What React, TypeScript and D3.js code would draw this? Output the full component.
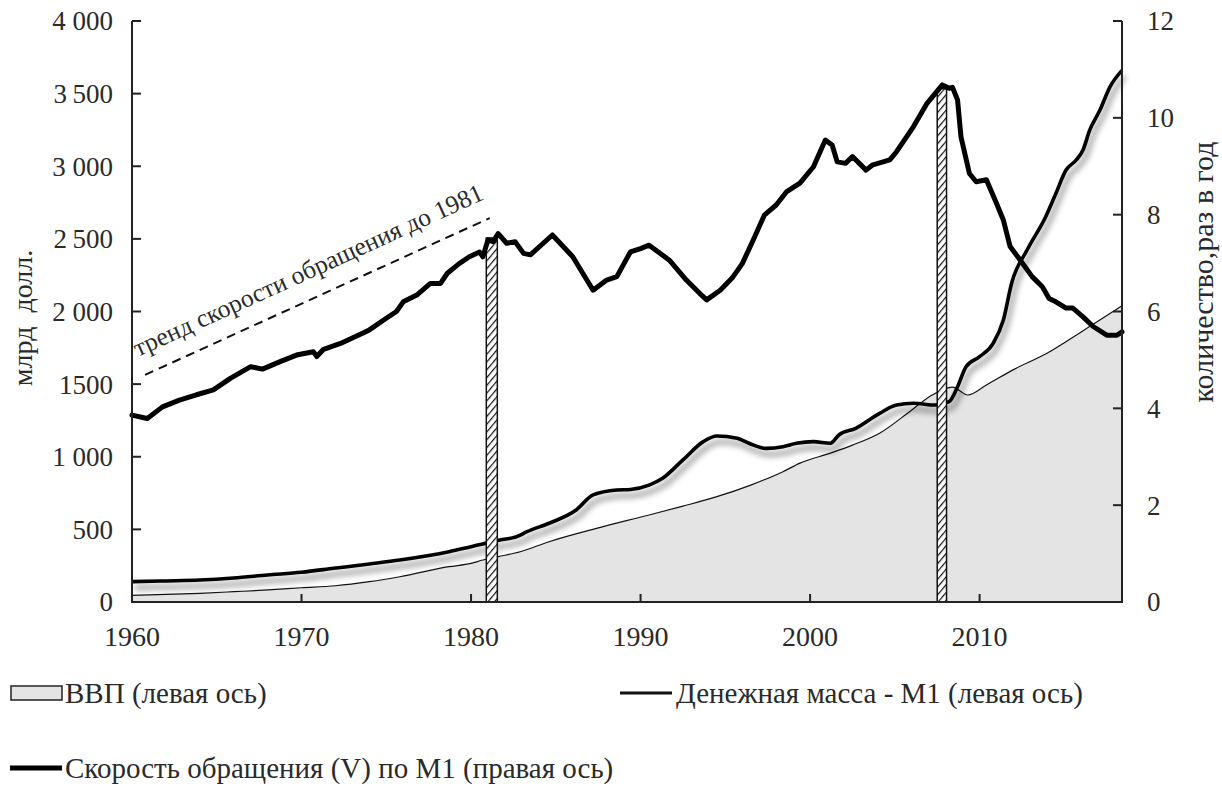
import React from 'react';
import * as d3 from 'd3';

// ---------- DATA ----------
const xTickYears = [1960, 1970, 1980, 1990, 2000, 2010];
const leftTicks = [0, 500, 1000, 1500, 2000, 2500, 3000, 3500, 4000];
const leftTickLabels = ['0', '500', '1\u00a0000', '1500', '2\u00a0000', '2\u2009500', '3\u00a0000', '3\u2009500', '4\u00a0000'];
const rightTicks = [0, 2, 4, 6, 8, 10, 12];

// ВВП (gray area, left axis)
const gdpYears = [1960, 1962, 1964, 1966, 1968, 1970, 1972, 1974, 1975.8, 1978.7, 1980, 1980.7, 1981.6, 1982.9, 1984.6, 1987.4, 1990.5, 1992.5, 1994.5, 1996.5, 1998.4, 1999.4, 2001.2, 2002.5, 2004.1, 2006.0, 2007.2, 2008.4, 2009.3, 2010.4, 2012, 2014, 2015.9, 2017, 2018.4];
const gdpVals = [45, 52, 60, 71, 83, 98, 112, 140, 174, 243, 266, 289, 312, 346, 415, 507, 599, 660, 725, 805, 897, 956, 1025, 1080, 1162, 1322, 1425, 1480, 1425, 1494, 1600, 1714, 1852, 1935, 2040];

// Денежная масса M1 (line with shadow, left axis)
const m1Years = [1960, 1962, 1964, 1966, 1968, 1970, 1971.9, 1974, 1975.8, 1978.7, 1980, 1980.7, 1981.7, 1982.7, 1983.3, 1984.6, 1986.2, 1987.2, 1988.6, 1989.4, 1990.5, 1991.3, 1992.5, 1993.7, 1994.5, 1995.7, 1996.4, 1997.4, 1998.4, 1999.2, 2000.2, 2001.2, 2001.7, 2002.7, 2004.1, 2005.1, 2006.1, 2007.4, 2008.2, 2008.7, 2009.2, 2010.0, 2010.8, 2011.4, 2011.9, 2012.8, 2013.9, 2014.5, 2015.1, 2015.7, 2016.1, 2016.5, 2017.1, 2017.7, 2018.4];
const m1Vals = [140, 145, 151, 165, 186, 205, 232, 262, 289, 346, 381, 400, 427, 450, 484, 542, 633, 737, 771, 775, 805, 852, 978, 1104, 1143, 1127, 1093, 1058, 1069, 1093, 1104, 1093, 1150, 1196, 1299, 1356, 1368, 1356, 1379, 1482, 1620, 1689, 1781, 1941, 2200, 2423, 2653, 2813, 2974, 3043, 3112, 3250, 3387, 3548, 3660];

// Скорость обращения V по M1 (thick line, right axis)
const vYears = [1960, 1960.9, 1961.8, 1962.8, 1963.8, 1964.8, 1965.8, 1967.0, 1967.7, 1968.7, 1969.7, 1970.7, 1970.9, 1971.3, 1972.3, 1973.6, 1974.0, 1975.0, 1975.6, 1976.0, 1976.8, 1977.6, 1978.2, 1978.6, 1979.3, 1979.9, 1980.5, 1980.7, 1981.0, 1981.3, 1981.6, 1982.1, 1982.6, 1983.1, 1983.5, 1984.8, 1986.0, 1987.2, 1988.0, 1988.6, 1989.4, 1990.0, 1990.5, 1991.7, 1992.7, 1993.5, 1993.9, 1994.7, 1995.4, 1996.0, 1996.6, 1997.3, 1998.0, 1998.6, 1999.4, 2000.2, 2000.9, 2001.3, 2001.6, 2002.1, 2002.5, 2003.3, 2003.7, 2004.7, 2005.1, 2006.1, 2006.9, 2007.8, 2008.2, 2008.4, 2008.7, 2008.9, 2009.4, 2009.8, 2010.4, 2011.0, 2011.4, 2011.8, 2012.4, 2013.1, 2013.7, 2014.1, 2014.5, 2015.1, 2015.5, 2016.1, 2016.7, 2017.5, 2018.1, 2018.4];
const vVals = [3.86, 3.79, 4.03, 4.17, 4.28, 4.38, 4.62, 4.86, 4.81, 4.96, 5.10, 5.17, 5.07, 5.22, 5.34, 5.55, 5.62, 5.86, 6.0, 6.2, 6.34, 6.58, 6.58, 6.79, 6.99, 7.13, 7.23, 7.13, 7.48, 7.44, 7.61, 7.41, 7.44, 7.20, 7.17, 7.58, 7.13, 6.44, 6.65, 6.72, 7.23, 7.30, 7.37, 7.06, 6.65, 6.37, 6.24, 6.44, 6.69, 6.99, 7.44, 7.99, 8.20, 8.47, 8.65, 8.99, 9.54, 9.44, 9.09, 9.06, 9.20, 8.92, 9.03, 9.13, 9.30, 9.82, 10.30, 10.68, 10.61, 10.63, 10.37, 9.61, 8.85, 8.68, 8.72, 8.23, 7.89, 7.34, 7.06, 6.72, 6.51, 6.27, 6.20, 6.07, 6.07, 5.89, 5.69, 5.51, 5.51, 5.58];

// recession bars (right-axis heights)
const recStart = [1980.9, 2007.5];
const recEnd = [1981.55, 2008.05];
const recTop = [7.52, 10.6];

// trend line (right axis)
const trendYears = [1960.77, 1981.1];
const trendVals = [4.69, 7.93];

const FONT = '"Liberation Serif", "Times New Roman", serif';

export default function App() {
  const x = d3.scaleLinear().domain([1960, 2018.4]).range([132, 1122]);
  const yL = d3.scaleLinear().domain([0, 4000]).range([602, 21]);
  const yR = d3.scaleLinear().domain([0, 12]).range([602, 21]);

  const gdpData = gdpYears.map((yr, i) => [yr, gdpVals[i]] as [number, number]);
  const m1Data = m1Years.map((yr, i) => [yr, m1Vals[i]] as [number, number]);
  const vData = vYears.map((yr, i) => [yr, vVals[i]] as [number, number]);

  const area = d3.area<[number, number]>().x(d => x(d[0])).y0(yL(0)).y1(d => yL(d[1])).curve(d3.curveMonotoneX);
  const gdpLine = d3.line<[number, number]>().x(d => x(d[0])).y(d => yL(d[1])).curve(d3.curveMonotoneX);
  const m1Line = d3.line<[number, number]>().x(d => x(d[0])).y(d => yL(d[1])).curve(d3.curveMonotoneX);
  const vLine = d3.line<[number, number]>().x(d => x(d[0])).y(d => yR(d[1])).curve(d3.curveLinear);

  const tx0 = x(trendYears[0]), ty0 = yR(trendVals[0]);
  const tx1 = x(trendYears[1]), ty1 = yR(trendVals[1]);
  const angle = Math.atan2(ty1 - ty0, tx1 - tx0) * 180 / Math.PI;

  const textColor = '#2a2a2a';
  const axisColor = '#222';

  return (
    <svg width={1222} height={788} style={{ position: 'absolute', left: 0, top: 0, background: '#fff' }} fontFamily={FONT}>
      <defs>
        <pattern id="hatch" patternUnits="userSpaceOnUse" width={5} height={5} patternTransform="rotate(40)">
          <rect width={5} height={5} fill="#fff" />
          <line x1={0} y1={0} x2={0} y2={5} stroke="#111" strokeWidth={2.4} />
        </pattern>
        <filter id="shadow" x="-10%" y="-20%" width="130%" height="160%">
          <feGaussianBlur in="SourceAlpha" stdDeviation={3.2} result="b" />
          <feOffset in="b" dx={3} dy={6} result="o" />
          <feComponentTransfer in="o" result="s">
            <feFuncA type="linear" slope={0.5} />
          </feComponentTransfer>
          <feMerge>
            <feMergeNode in="s" />
            <feMergeNode in="SourceGraphic" />
          </feMerge>
        </filter>
      </defs>

      {/* GDP area */}
      <path d={area(gdpData) || ''} fill="#e4e4e4" stroke="none" />
      <path d={gdpLine(gdpData) || ''} fill="none" stroke="#111" strokeWidth={1.2} />

      {/* M1 line with shadow */}
      <path d={m1Line(m1Data) || ''} fill="none" stroke="#000" strokeWidth={3.6} filter="url(#shadow)" strokeLinejoin="round" />

      {/* recession bars */}
      {recStart.map((s, i) => (
        <rect key={i} x={x(s)} y={yR(recTop[i])} width={x(recEnd[i]) - x(s)} height={yR(0) - yR(recTop[i])}
          fill="url(#hatch)" stroke="#111" strokeWidth={1.5} />
      ))}

      {/* velocity line */}
      <path d={vLine(vData) || ''} fill="none" stroke="#000" strokeWidth={5} strokeLinejoin="round" strokeLinecap="round" />

      {/* trend line */}
      <line x1={tx0} y1={ty0} x2={tx1} y2={ty1} stroke="#111" strokeWidth={2} strokeDasharray="9 6" />
      <text x={x(1960.35)} y={yR(5.06)} transform={`rotate(${angle} ${x(1960.35)} ${yR(5.06)})`} fontSize={25.5} fill={textColor}>
        тренд скорости обращения до 1981
      </text>

      {/* axes */}
      <line x1={132} y1={yL(4000)} x2={132} y2={yL(0)} stroke={axisColor} strokeWidth={2} />
      <line x1={1122} y1={yR(12)} x2={1122} y2={yR(0)} stroke={axisColor} strokeWidth={2} />
      <line x1={131} y1={yL(0)} x2={1123} y2={yL(0)} stroke={axisColor} strokeWidth={2} />

      {leftTicks.map((t, i) => (
        <g key={'l' + i}>
          <line x1={132} x2={141} y1={yL(t)} y2={yL(t)} stroke={axisColor} strokeWidth={2} />
          <text x={113} y={yL(t)} dy="0.35em" textAnchor="end" fontSize={27} fill={textColor}>{leftTickLabels[i]}</text>
        </g>
      ))}
      {rightTicks.map((t, i) => (
        <g key={'r' + i}>
          <line x1={1113} x2={1122} y1={yR(t)} y2={yR(t)} stroke={axisColor} strokeWidth={2} />
          <text x={1147} y={yR(t)} dy="0.35em" textAnchor="start" fontSize={27} fill={textColor}>{t}</text>
        </g>
      ))}
      {xTickYears.map((t, i) => (
        <g key={'x' + i}>
          <line x1={x(t)} x2={x(t)} y1={yL(0)} y2={yL(0) - 8} stroke={axisColor} strokeWidth={2} />
          <text x={x(t)} y={646} textAnchor="middle" fontSize={28} fill={textColor}>{t}</text>
        </g>
      ))}

      {/* axis titles */}
      <text transform={`translate(32 ${318}) rotate(-90)`} textAnchor="middle" fontSize={28} fill={textColor}>млрд&#160;&#160;долл.</text>
      <text transform={`translate(1213 ${272}) rotate(-90)`} textAnchor="middle" fontSize={30} fill={textColor}>количество,раз в год</text>

      {/* legend */}
      <rect x={11} y={686} width={51} height={14} fill="#e4e4e4" stroke="#222" strokeWidth={1.5} />
      <text x={65} y={703} fontSize={29} fill={textColor}>ВВП (левая ось)</text>

      <line x1={620} x2={672} y1={693} y2={693} stroke="#111" strokeWidth={3} />
      <text x={676} y={703} fontSize={29} fill={textColor}>Денежная масса - М1 (левая ось)</text>

      <line x1={10} x2={62} y1={768} y2={768} stroke="#000" strokeWidth={5} />
      <text x={65} y={778} fontSize={29} fill={textColor}>Скорость обращения (V) по М1 (правая ось)</text>
    </svg>
  );
}
